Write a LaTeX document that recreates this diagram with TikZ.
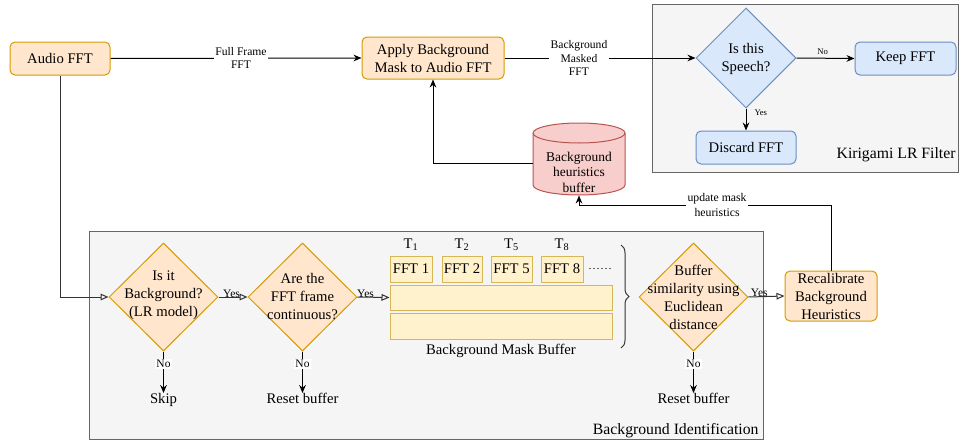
\documentclass[tikz,border=0pt]{standalone}
\usepackage{fontspec}
\setmainfont{Liberation Serif}
\usetikzlibrary{arrows.meta,decorations.pathreplacing,shapes.geometric}
\definecolor{ofill}{HTML}{FFE6CC}\definecolor{oline}{HTML}{D79B00}
\definecolor{yfill}{HTML}{FFF2CC}\definecolor{yline}{HTML}{D6B656}
\definecolor{bfill}{HTML}{DAE8FC}\definecolor{bline}{HTML}{6C8EBF}
\definecolor{rfill}{HTML}{F8CECC}\definecolor{rline}{HTML}{B85450}
\definecolor{gfill}{HTML}{F5F5F5}\definecolor{gline}{HTML}{666666}
\newcommand\fmain{\fontsize{11}{13.5}\selectfont}
\newcommand\fsm{\fontsize{8.7}{10.3}\selectfont}
\newcommand\ftiny{\fontsize{6.5}{8}\selectfont}
\newcommand\fyn{\fontsize{8.6}{10}\selectfont}
\newcommand\fbig{\fontsize{11.8}{14}\selectfont}
\newcommand\fcyl{\fontsize{10.1}{11.6}\selectfont}
\begin{document}
\begin{tikzpicture}[x=0.75pt,y=-0.75pt,line width=0.75pt,
  grp/.style={draw=gline,fill=gfill,inner sep=0},
  obox/.style={draw=oline,fill=ofill,rounded corners=3.75pt,inner sep=0,align=center,font=\fmain},
  bbox/.style={draw=bline,fill=bfill,rounded corners=3.75pt,inner sep=0,align=center,font=\fmain},
  ybox/.style={draw=yline,fill=yfill,inner sep=0,align=center,font=\fmain},
  odia/.style={diamond,draw=oline,fill=ofill,inner sep=0,minimum width=81.75pt,minimum height=81pt},
  bdia/.style={diamond,draw=bline,fill=bfill,inner sep=0,minimum width=75pt,minimum height=75pt},
  txt/.style={align=center,font=\fmain,inner sep=0},
  arr/.style={-{Stealth[length=6pt,width=5pt]}},
  tri/.style={draw=black!80,-{Triangle[open,length=6pt,width=5pt]}},
  lab/.style={fill=white,align=center,font=\fsm,inner sep=1pt},
  yn/.style={font=\fyn,inner sep=1pt},
  ynw/.style={font=\fyn,inner sep=1pt,fill=white}]
\useasboundingbox (0,0) rectangle (961,443);
% group boxes
\node[grp,minimum width=229.5pt,minimum height=126pt] (kir) at (805,88) {};
\node[grp,minimum width=505.5pt,minimum height=156pt] (bid) at (426,335) {};
\node[anchor=east,font=\fbig,inner sep=0] (kirt) at (956,155) {Kirigami LR Filter};
\node[anchor=east,font=\fbig,inner sep=0] (bidt) at (759,431) {Background Identification};
% top row
\node[obox,minimum width=75pt,minimum height=24.75pt] (audio) at (60,58.5) {Audio FFT};
\node[obox,minimum width=106.5pt,minimum height=31.5pt] (apply) at (433,58) {Apply Background\\Mask to Audio FFT};
\node[bdia] (sp) at (746,58) {};
\node[txt] (spt) at (746,58.5) {Is this\\Speech?};
\node[bbox,minimum width=75.75pt,minimum height=24.75pt] (keep) at (905.5,58.5) {Keep FFT};
\node[bbox,minimum width=75pt,minimum height=24.75pt] (disc) at (746,147.5) {Discard FFT};
% cylinder
\draw[draw=rline,fill=rfill] (533,133) -- (533,185) arc[start angle=180,end angle=360,x radius=34.5pt,y radius=7.5pt] -- (625,133) arc[start angle=0,end angle=180,x radius=34.5pt,y radius=7.5pt] -- cycle;
\draw[draw=rline] (533,133) arc[start angle=180,end angle=360,x radius=34.5pt,y radius=7.5pt];
\node[minimum width=69pt,minimum height=54pt,inner sep=0] (cyl) at (579,159) {};
\node[align=center,font=\fcyl,inner sep=0] (cylt) at (579,172) {Background\\heuristics\\buffer};
% background identification
\node[odia] (d1) at (163.5,297) {};
\node[txt] (d1t) at (163.5,295) {Is it\\Background?\\(LR model)};
\node[odia] (d2) at (302.5,297) {};
\node[txt] (d2t) at (302.5,297) {Are the\\FFT frame\\continuous?};
\node[odia] (d3) at (693.5,297) {};
\node[txt] (d3t) at (693.5,297) {Buffer\\similarity using\\Euclidean\\distance};
\node[ybox,minimum width=31.5pt,minimum height=19.5pt] (f1) at (411,269) {FFT 1};
\node[ybox,minimum width=30pt,minimum height=19.5pt] (f2) at (462,269) {FFT 2};
\node[ybox,minimum width=30.75pt,minimum height=19.5pt] (f5) at (511.5,269) {FFT 5};
\node[ybox,minimum width=31.5pt,minimum height=19.5pt] (f8) at (562,269) {FFT 8};
\node[txt] (t1) at (411,245) {T\textsubscript{1}};
\node[txt] (t2) at (462,245) {T\textsubscript{2}};
\node[txt] (t5) at (511.5,245) {T\textsubscript{5}};
\node[txt] (t8) at (562,245) {T\textsubscript{8}};
\draw[gline,dash pattern=on 1.5pt off 1.5pt,line width=0.6pt] (589,268) -- (612,268);
\node[ybox,minimum width=166.5pt,minimum height=18.75pt] (row1) at (501,297.5) {};
\node[ybox,minimum width=166.5pt,minimum height=19.5pt] (row2) at (501,326) {};
\node[txt] (bmb) at (501,351) {Background Mask Buffer};
\draw[black!80,decorate,decoration={brace,amplitude=6pt}] (621,245) -- (621,348);
\node[obox,minimum width=69pt,minimum height=37.5pt] (recal) at (831,296) {};
\node[txt] (recalt) at (831,296) {Recalibrate\\Background\\Heuristics};
\node[txt,anchor=north] (skip) at (163.5,393) {Skip};
\node[txt,anchor=north] (rs1) at (302.5,393) {Reset buffer};
\node[txt,anchor=north] (rs2) at (693.5,393) {Reset buffer};
% connectors
\draw[arr] (audio.east) -- node[lab,pos=0.52,font=\fontsize{8.7}{9.8}\selectfont] {Full Frame\\FFT} (apply.west);
\draw[arr] (apply.east) -- node[lab,pos=0.39] {Background\\Masked\\FFT} (sp.west);
\draw[arr] (sp.east) -- node[pos=0.45,above=2pt,font=\ftiny,inner sep=0] {No} (keep.west);
\draw[arr] (sp.south) -- node[pos=0.2,right=6pt,font=\ftiny,inner sep=0] {Yes} (disc.north);
\draw[arr] ([yshift=-3pt]cyl.west) -| (apply.south);
\coordinate (upd) at (579,205);
\draw[arr] (recal.north) |- (upd) node[lab,pos=0.726,font=\fontsize{8.8}{11}\selectfont] {update mask\\heuristics} -- (cyl.south);
\draw[tri] (audio.south) |- (d1.west);
\draw[tri] (d1.east) -- node[yn,pos=0.45,above=-1.5pt] {Yes} (d2.west);
\draw[tri] (d2.east) -- node[yn,pos=0.25,above=-1.5pt] {Yes} (row1.west);
\draw[tri] (d3.east) -- node[yn,pos=0.3,above=-1.5pt] {Yes} (recal.west);
\draw[arr] (d1.south) -- node[ynw,pos=0.3] {No} (skip.north);
\draw[arr] (d2.south) -- node[ynw,pos=0.3] {No} (rs1.north);
\draw[arr] (d3.south) -- node[ynw,pos=0.3] {No} (rs2.north);
\end{tikzpicture}
\end{document}
